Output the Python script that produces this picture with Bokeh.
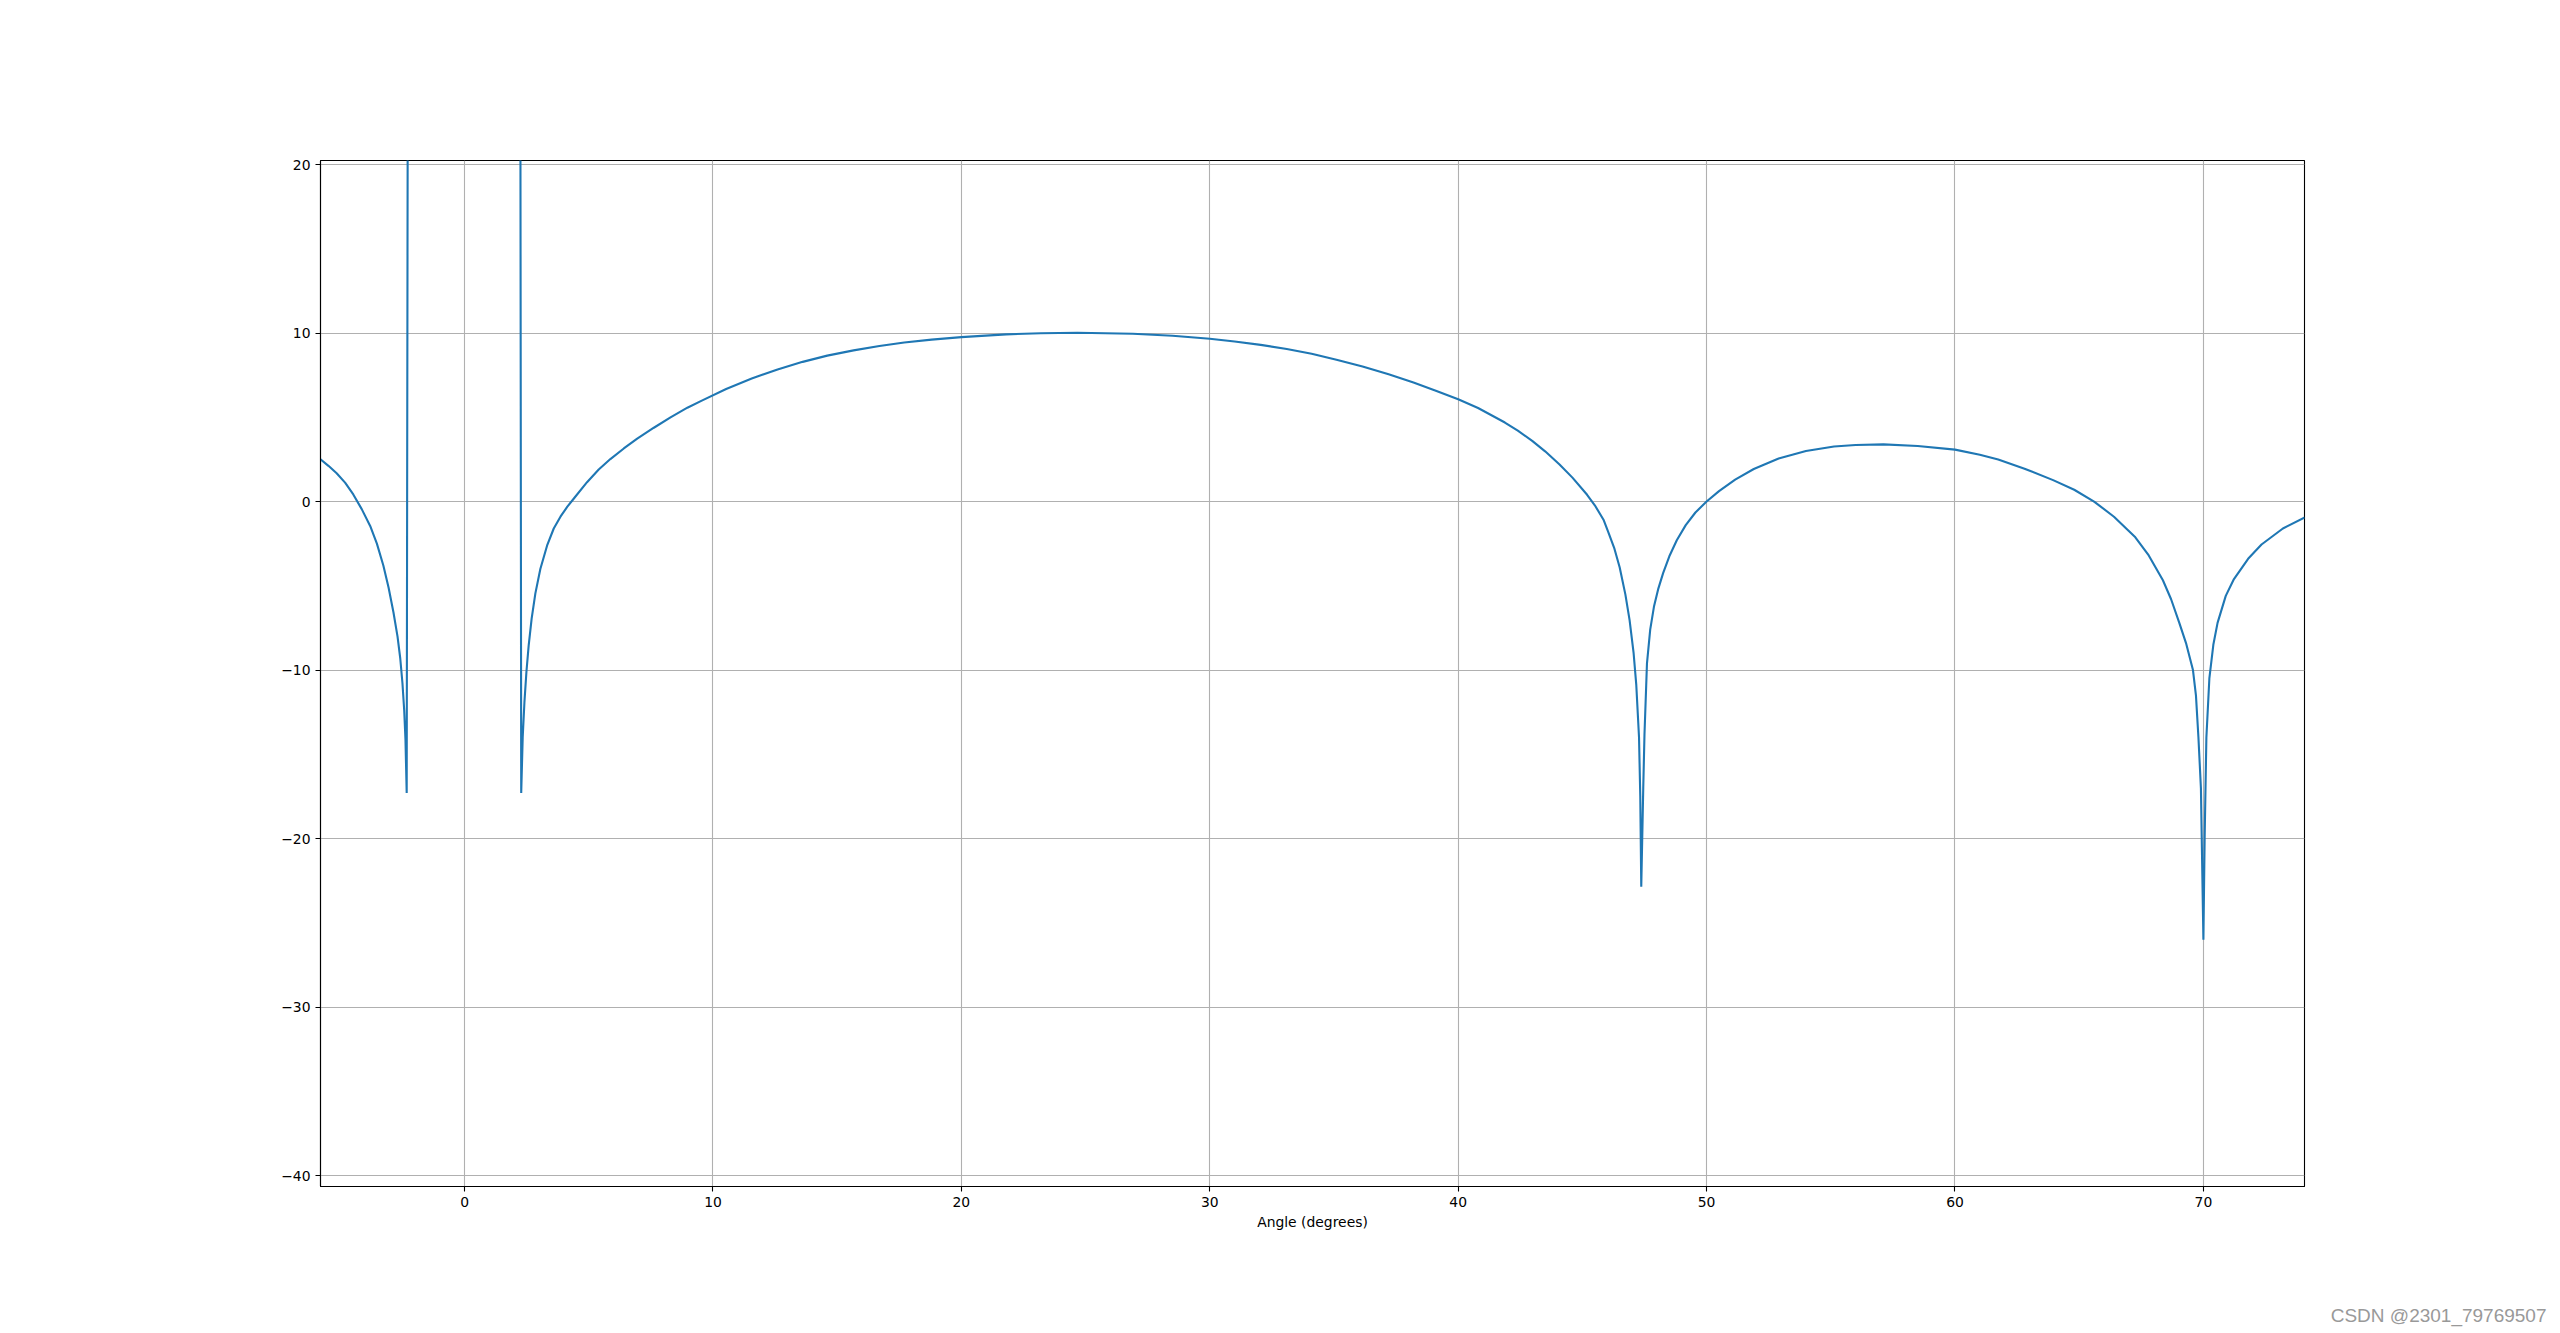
from bokeh.plotting import figure
from bokeh.models import Range1d, FixedTicker, Title
from bokeh.embed import file_html
from bokeh.resources import INLINE

# ---- data ----
angle_deg = [
    -5.80, -5.48, -5.15, -4.81, -4.48, -4.14, -3.80, -3.53, -3.27, -3.06,
    -2.86, -2.70, -2.59, -2.50, -2.43, -2.38, -2.33,
    -2.28, 0.0, 2.24,
    2.28, 2.34, 2.41, 2.49, 2.58, 2.70, 2.85, 3.05, 3.32, 3.59, 3.86, 4.13,
    4.40, 4.93, 5.40, 5.87, 6.41, 6.95, 7.62, 8.29, 8.97, 9.55, 10.53,
    11.56, 12.60, 13.61, 14.60, 15.66, 16.70, 17.70, 18.80, 20.00, 21.80,
    23.20, 24.67, 26.90, 28.50, 30.00, 31.00, 32.05, 33.10, 34.10, 35.10,
    36.15, 37.20, 38.20, 39.10, 40.00, 40.80, 41.88, 42.40, 42.98, 43.50,
    44.08, 44.60, 45.19, 45.50, 45.85, 46.05, 46.29, 46.50, 46.73, 46.90,
    47.06, 47.17, 47.28, 47.33, 47.37, 47.45, 47.50, 47.60, 47.73, 47.88,
    48.06, 48.25, 48.50, 48.80, 49.16, 49.55, 50.00, 50.50, 51.15, 51.90,
    52.90, 54.00, 55.13, 56.00, 57.12, 58.50, 60.00, 61.00, 61.74, 62.80,
    63.95, 64.80, 65.60, 66.40, 67.26, 67.80, 68.37, 68.70, 69.03, 69.30,
    69.58, 69.70, 69.80, 69.90, 70.00, 70.05, 70.12, 70.24, 70.40, 70.57,
    70.90, 71.23, 71.80, 72.34, 73.20, 74.08,
]
gain_db = [
    2.50, 2.12, 1.68, 1.12, 0.42, -0.45, -1.45, -2.50, -3.80, -5.10,
    -6.60, -8.00, -9.30, -10.80, -12.40, -14.10, -17.30,
    32.0, 40.0, 32.0,
    -17.30, -14.00, -11.90, -10.10, -8.55, -6.95, -5.45, -4.00, -2.62, -1.60, -0.90, -0.32,
    0.18, 1.15, 1.90, 2.52, 3.15, 3.73, 4.38, 5.00, 5.57, 5.99, 6.68,
    7.30, 7.84, 8.29, 8.66, 8.97, 9.23, 9.44, 9.61, 9.76, 9.92,
    9.99, 10.02, 9.96, 9.84, 9.66, 9.50, 9.30, 9.05, 8.77, 8.42,
    8.02, 7.55, 7.06, 6.58, 6.07, 5.55, 4.69, 4.21, 3.60, 2.98,
    2.20, 1.42, 0.40, -0.22, -1.08, -1.84, -2.80, -3.90, -5.51, -7.04,
    -8.96, -10.90, -14.00, -17.50, -22.86, -17.00, -13.80, -9.60, -7.60, -6.25,
    -5.15, -4.25, -3.25, -2.30, -1.40, -0.65, 0.00, 0.62, 1.30, 1.93,
    2.55, 3.00, 3.27, 3.36, 3.39, 3.30, 3.08, 2.78, 2.50, 1.95,
    1.27, 0.70, 0.00, -0.90, -2.12, -3.20, -4.67, -5.80, -7.20, -8.40,
    -10.00, -11.50, -14.00, -17.00, -26.00, -20.00, -14.00, -10.50, -8.50, -7.20,
    -5.60, -4.60, -3.40, -2.55, -1.60, -0.95,
]
x_ticks = [0, 10, 20, 30, 40, 50, 60, 70]
y_ticks = [-40, -30, -20, -10, 0, 10, 20]
x_label = "Angle (degrees)"
watermark = "CSDN @2301_79769507"

FONT = "DejaVu Sans"
FS = "13.9px"

p = figure(
    frame_width=1984, frame_height=1026,
    min_border_left=320, min_border_top=160,
    min_border_right=248, min_border_bottom=144,
    x_range=Range1d(-5.80, 74.07), y_range=Range1d(-40.65, 20.24),
    output_backend="svg", toolbar_location=None,
)
p.background_fill_color = "white"
p.border_fill_color = "white"
p.outline_line_color = "black"
p.outline_line_width = 1.1

p.line(angle_deg, gain_db, line_color="#1f77b4", line_width=2.1)

for ax in (p.xaxis[0], p.yaxis[0]):
    ax.axis_line_color = "black"
    ax.axis_line_width = 1.1
    ax.major_tick_line_color = "black"
    ax.major_tick_line_width = 1.1
    ax.major_tick_out = 5
    ax.major_tick_in = 0
    ax.minor_tick_line_color = None
    ax.major_label_text_font = FONT
    ax.major_label_text_font_size = FS
    ax.major_label_text_color = "black"
    ax.major_label_standoff = 5

p.xaxis.ticker = FixedTicker(ticks=x_ticks)
p.yaxis.ticker = FixedTicker(ticks=y_ticks)
p.xaxis.major_label_overrides = {t: (str(t).replace("-", "\u2212")) for t in x_ticks}
p.yaxis.major_label_overrides = {t: (str(t).replace("-", "\u2212")) for t in y_ticks}

p.xaxis.axis_label = x_label
p.xaxis.axis_label_text_font = FONT
p.xaxis.axis_label_text_font_size = FS
p.xaxis.axis_label_text_font_style = "normal"
p.xaxis.axis_label_text_color = "black"
p.xaxis.axis_label_standoff = 4

for g in (p.xgrid[0], p.ygrid[0]):
    g.grid_line_color = "#b0b0b0"
    g.grid_line_width = 1.1
p.xgrid.ticker = FixedTicker(ticks=x_ticks)
p.ygrid.ticker = FixedTicker(ticks=y_ticks)

p.add_layout(Title(
    text=watermark, align="right", offset=-242, standoff=140,
    vertical_align="bottom",
    text_font="Liberation Sans", text_font_size="19px",
    text_font_style="normal", text_color="#999999",
), "below")

open("out.html", "w").write(file_html(p, INLINE))
